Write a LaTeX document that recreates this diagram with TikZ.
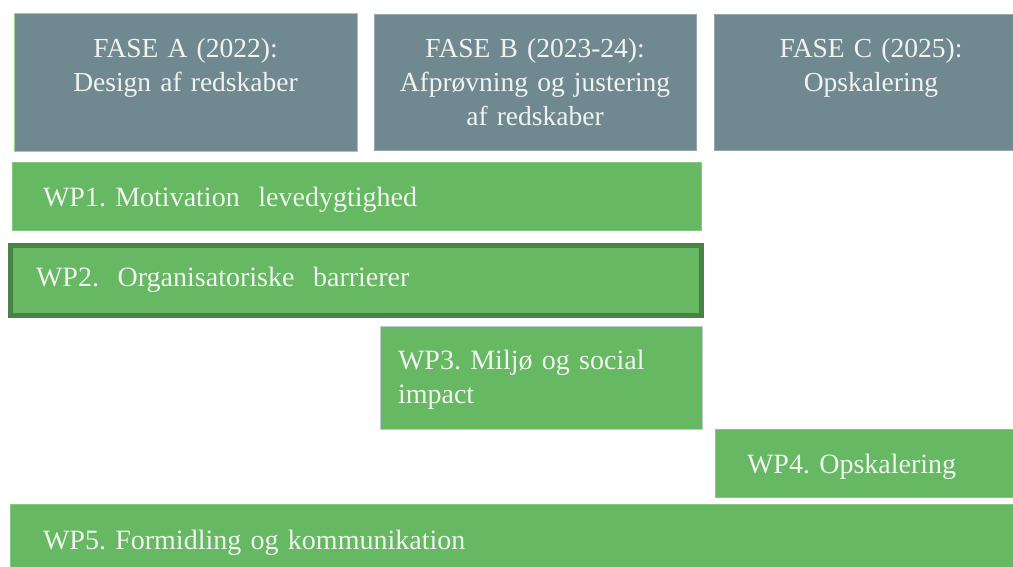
\documentclass[tikz,border=0pt]{standalone}
\usepackage{fontspec}
\setmainfont{Liberation Serif}
\usepackage{tikz}
\frenchspacing
\definecolor{phasegray}{RGB}{112,137,145}
\definecolor{wpgreen}{RGB}{102,184,98}
\definecolor{darkgreen}{RGB}{72,130,68}
\definecolor{lightgreen}{RGB}{150,214,140}
\definecolor{offwhite}{RGB}{240,243,240}
\tikzset{phase node/.style={rectangle,fill=phasegray,draw=phasegray!75!white,line width=1pt,inner sep=0pt,outer sep=0pt,align=center,anchor=north west,text=offwhite,font=\fontsize{27.5}{34}\selectfont},
wp node/.style={rectangle,fill=wpgreen,draw=wpgreen!80!white,line width=1pt,inner ysep=0pt,outer sep=0pt,align=left,anchor=north west,text=offwhite,font=\fontsize{28}{34}\selectfont},}

\begin{document}
\begin{tikzpicture}[x=1pt,y=-1pt]
	\useasboundingbox (0,0) rectangle (1013,567);
	\clip (0,0) rectangle (1013,567);
	% phases
	\node[phase node, draw=lightgreen, text width=343pt, text height=43.5pt, text depth=94.5pt] (faseA) at (14,14) {FASE A (2022):\\ Design af redskaber};
	\node[phase node, text width=322pt, text height=43pt, text depth=93pt] (faseB) at (374,15) {FASE B (2023-24):\\ Afprøvning og justering\\ af redskaber};
	\node[phase node, text width=314pt, text height=43pt, text depth=93pt] (faseC) at (714,15) {FASE C (2025):\\ Opskalering};
	% work packages
	\node[wp node, inner xsep=31pt, text width=627pt, text height=44pt, text depth=24pt] (wp1) at (12,163) {WP1. Motivation~ levedygtighed};
	\node[wp node, draw=darkgreen, line width=5pt, inner xsep=25.5pt, text width=640pt, text height=41.5pt, text depth=28.5pt] (wp2) at (10.5,245.5) {WP2.~ Organisatoriske~ barrierer};
	\node[wp node, draw=phasegray!45!white, inner xsep=18pt, text width=286pt, text height=43pt, text depth=60pt] (wp3) at (380,326) {WP3. Miljø og social\\ impact};
	\node[wp node, inner xsep=32pt, text width=251pt, text height=44pt, text depth=24pt] (wp4) at (715,429) {WP4. Opskalering};
	\node[wp node, inner xsep=33pt, text width=954pt, text height=45pt, text depth=23pt] (wp5) at (10,504) {WP5. Formidling og kommunikation};
\end{tikzpicture}
\end{document}
